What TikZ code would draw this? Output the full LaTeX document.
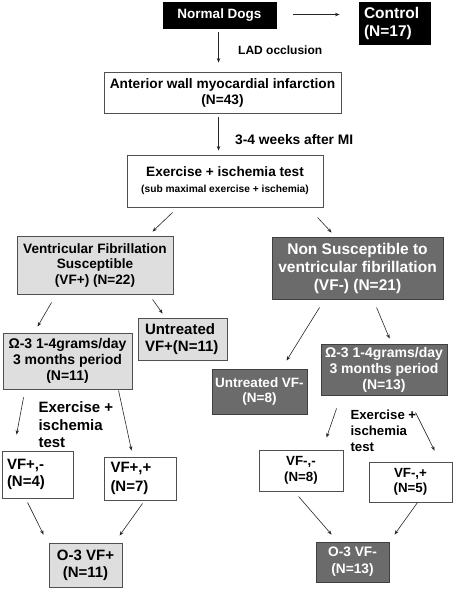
\documentclass[tikz,border=0pt]{standalone}
\usepackage{fontspec}
\setmainfont{Liberation Sans}
\usetikzlibrary{positioning,arrows.meta}
\definecolor{vfpgray}{HTML}{DEDEDE}
\definecolor{vfmgray}{HTML}{6B6B6B}
\definecolor{edgegray}{HTML}{505050}
\newcommand{\boxfont}[2]{\fontsize{#1}{#2}\selectfont\bfseries}

\begin{document}
\begin{tikzpicture}[x=1pt,y=-1pt,
	>={Stealth[length=4.5pt,width=3.5pt]},
	box/.style={draw=edgegray, line width=0.9pt, inner sep=0pt, align=center},
	blackbox/.style={box, draw=black, fill=black, text=white},
	vfpbox/.style={box, fill=vfpgray},
	vfmbox/.style={box, draw=black!75, fill=vfmgray, text=white},
	lbox/.style={align=left, inner ysep=0pt},
	arr/.style={->, draw=black!85, line width=0.6pt}]
	\useasboundingbox (0,0) rectangle (454,589);
	% top of the flow
	\node[blackbox, minimum width=113pt, minimum height=26pt, font=\boxfont{13.5}{15.5}] (nd) at (219.5,15) {Normal Dogs};
	\node[blackbox, lbox, inner xsep=5pt, text width=61pt, minimum height=42pt, font=\boxfont{15.5}{18}] (ctrl) at (394.5,23) {Control\\(N=17)};
	\node[box, minimum width=237pt, minimum height=41pt, font=\boxfont{13.7}{16}] (awmi) at (222.5,92.5) {Anterior wall myocardial infarction\\(N=43)};
	\node[box, minimum width=196pt, minimum height=52pt, font=\boxfont{13.6}{16}] (ex) at (225,181) {Exercise + ischemia test\\{\boxfont{10.2}{12}(sub maximal exercise + ischemia)}};
	% susceptible branch
	\node[vfpbox, minimum width=156pt, minimum height=58pt, font=\boxfont{13.6}{15.5}] (vfp) at (95,265) {Ventricular Fibrillation\\Susceptible\\(VF+) (N=22)};
	\node[vfpbox, minimum width=129pt, minimum height=56pt, font=\boxfont{14}{16}] (o3p) at (67.5,361) {Ω-3 1-4grams/day\\3 months period\\(N=11)};
	\node[vfpbox, lbox, inner xsep=7pt, text width=75pt, minimum height=42pt, font=\boxfont{15}{17}] (utp) at (182.5,339) {Untreated\\VF+(N=11)};
	\node[box, lbox, inner xsep=5pt, text width=61pt, minimum height=47pt, font=\boxfont{15}{17}] (vfpm) at (37.5,474.5) {VF+,-\\(N=4)};
	\node[box, lbox, inner xsep=6.5pt, text width=59pt, minimum height=43pt, font=\boxfont{15}{18.5}] (vfpp) at (140,478.5) {VF+,+\\(N=7)};
	\node[vfpbox, minimum width=73pt, minimum height=44pt, font=\boxfont{15}{17}] (fp) at (85.5,565) {O-3 VF+\\(N=11)};
	\node[lbox, anchor=west, font=\boxfont{15}{17.5}] (exp) at (35,425) {Exercise +\\ischemia\\test};
	% non susceptible branch
	\node[vfmbox, minimum width=171pt, minimum height=62pt, font=\boxfont{15.5}{18}] (vfm) at (357.5,268) {Non Susceptible to\\ventricular fibrillation\\(VF-) (N=21)};
	\node[vfmbox, minimum width=95pt, minimum height=45pt, font=\boxfont{13.5}{15}] (utm) at (259.5,391.5) {Untreated VF-\\(N=8)};
	\node[vfmbox, minimum width=126pt, minimum height=51pt, font=\boxfont{14}{16}] (o3m) at (384,369.5) {Ω-3 1-4grams/day\\3 months period\\(N=13)};
	\node[box, minimum width=84pt, minimum height=41pt, font=\boxfont{13.3}{16}] (vfmm) at (301,470.5) {VF-,-\\(N=8)};
	\node[box, minimum width=83pt, minimum height=40pt, font=\boxfont{13.3}{15}] (vfmp) at (410.5,482) {VF-,+\\(N=5)};
	\node[vfmbox, minimum width=73pt, minimum height=40pt, font=\boxfont{13.7}{17}] (fm) at (352.5,562) {O-3 VF-\\(N=13)};
	\node[lbox, anchor=west, font=\boxfont{13.2}{16}] (exm) at (347,431) {Exercise +\\ischemia\\test};
	% arrows
	\draw[arr] ([shift={(17,13)}]nd.north east) -- ([shift={(-19,13)}]ctrl.north west);
	\draw[arr] ([shift={(56,4)}]nd.south west) -- ([shift={(115,-9)}]awmi.north west)
		node[midway, anchor=west, xshift=16pt, yshift=-2.5pt, font=\boxfont{12}{14}] {LAD occlusion};
	\draw[arr] ([shift={(115,4)}]awmi.south west) -- ([shift={(92,-4)}]ex.north west)
		node[midway, anchor=west, xshift=13pt, yshift=-6pt, font=\boxfont{13.8}{16}] {3-4 weeks after MI};
	\draw[arr] ([shift={(46,5)}]ex.south west) -- ([shift={(136,-4)}]vfp.north west);
	\draw[arr] ([shift={(191,10)}]ex.south west) -- ([shift={(60,-4)}]vfm.north west);
	\draw[arr] ([shift={(35,8)}]vfp.south west) -- ([shift={(35,-6)}]o3p.north west);
	\draw[arr] ([shift={(136,5)}]vfp.south west) -- ([shift={(25,-4)}]utp.north west);
	\draw[arr] ([shift={(48,8)}]vfm.south west) -- ([shift={(75,-8)}]utm.north west);
	\draw[arr] ([shift={(105,8)}]vfm.south west) -- ([shift={(69,-5)}]o3m.north west);
	\draw[arr] ([shift={(21,8)}]o3p.south west) -- ([shift={(15,-16)}]vfpm.north west);
	\draw[arr] ([shift={(116,1)}]o3p.south west) -- ([shift={(28,-6)}]vfpp.north west);
	\draw[arr] ([shift={(26,4)}]vfpm.south west) -- ([shift={(-5,-8)}]fp.north west);
	\draw[arr] ([shift={(39,3)}]vfpp.south west) -- ([shift={(71,-7)}]fp.north west);
	\draw[arr] ([shift={(16,13)}]o3m.south west) -- ([shift={(68,-12)}]vfmm.north west);
	\draw[arr] ([shift={(95,17)}]o3m.south west) -- ([shift={(66,-11)}]vfmp.north west);
	\draw[arr] ([shift={(40,5)}]vfmm.south west) -- ([shift={(16,-7)}]fm.north west);
	\draw[arr] ([shift={(49,0)}]vfmp.south west) -- ([shift={(79,-7)}]fm.north west);
\end{tikzpicture}
\end{document}
